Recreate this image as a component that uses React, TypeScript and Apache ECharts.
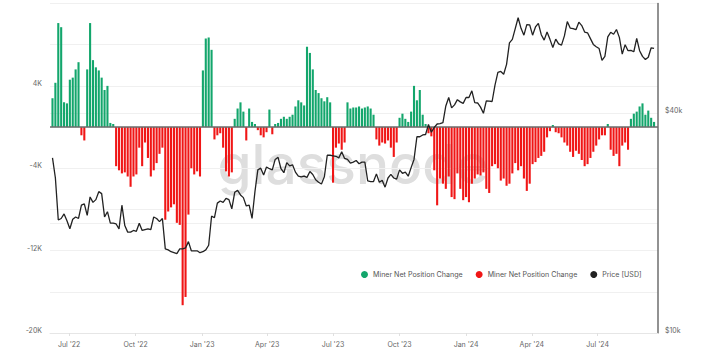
import React, { useEffect, useRef } from 'react';
import * as echarts from 'echarts';

// Sampling: every 4 days starting 2022-06-08
const startYear = 2022;
const startMonth = 5; // June (0-based)
const startDay = 8;
const stepDays = 4;

// Miner Net Position Change (thousands BTC)
const netChangeK = [
  2.8, 4.3, 10.1, 9.7, 2.4, 2.3, 4.6, 4.8, 5.6, 6.3,
  -0.8, -1.3, 5.6, 10.1, 6.5, 5.8, 5.5, 4.8, 3.6, 4.0,
  0.4, 0.3, -3.8, -4.2, -4.5, -4.4, -4.8, -5.8, -4.8, -4.6,
  -2.0, -3.8, -1.5, -3.0, -4.8, -4.2, -3.5, -2.6, -2.0, -9.0,
  -8.2, -7.8, -7.5, -9.3, -9.5, -17.3, -16.5, -8.5, -4.0, -4.6,
  -4.3, -4.8, 5.5, 8.6, 8.7, 7.5, -1.2, -0.8, -0.6, -2.0,
  -4.3, -4.8, -4.4, 0.8, 1.8, 2.4, 1.5, -1.3, 1.8, 0.5,
  0.3, -0.3, -0.8, -1.0, -0.5, 1.7, -0.7, 0.3, 0.4, 0.8,
  1.0, 0.8, 1.0, 1.2, 2.0, 2.6, 2.4, 2.1, 7.8, 7.2,
  5.6, 3.6, 3.3, 2.8, 2.5, 2.9, 2.4, -5.4, -2.0, -1.6,
  -2.2, -1.5, 2.4, 1.8, 1.9, 1.9, 2.0, 1.8, 1.9, 2.0,
  1.8, 1.2, -1.2, -1.8, -1.5, -1.6, -1.3, -2.0, -2.9, -1.5,
  0.9, 1.3, 0.8, 0.5, 1.5, 4.0, 2.6, 3.6, 1.2, 0.3,
  -0.6, -0.9, -4.2, -7.6, -5.0, -5.5, -6.0, -4.8, -6.8, -7.0,
  -4.5, -6.0, -7.1, -6.8, -7.3, -5.5, -5.0, -4.6, -4.7, -4.4,
  -6.0, -6.4, -3.8, -3.6, -4.0, -5.2, -5.0, -5.7, -5.5, -4.5,
  -3.5, -4.2, -3.8, -5.0, -6.2, -5.5, -3.6, -3.4, -3.0, -2.8,
  -2.4, -1.0, -0.4, 0.2, -0.5, -0.6, -1.0, -1.5, -1.8, -2.4,
  -2.9, -2.3, -2.6, -3.2, -3.8, -3.6, -3.0, -2.4, -1.8, -1.2,
  -0.8, -0.8, 0.3, -2.2, -2.8, -2.6, -3.8, -1.8, -1.5, -2.2,
  0.8, 1.3, 1.5, 2.0, 2.3, 1.2, 1.6, 0.9, 0.5,
];

// BTC price (thousands USD)
const priceK = [
  30.2, 26.6, 20.4, 20.6, 21.2, 20.3,
  19.3, 20.5, 20.8, 20.6, 22.4, 22.6, 21.0, 23.6,
  22.8, 23.2, 24.4, 24.1, 20.8, 21.5, 20.0, 20.0,
  19.9, 19.3, 22.4, 19.7, 18.9, 18.9, 19.1,
  19.0, 20.0, 19.1, 19.2, 19.3, 19.2, 20.8, 20.6,
  20.2, 20.6, 17.0, 16.9, 16.7, 16.6, 16.5,
  17.0, 17.0, 17.1, 17.8, 16.8, 16.8, 16.8, 16.6,
  16.7, 16.9, 17.4, 20.9, 20.7, 22.7, 23.0, 22.8,
  23.4, 23.2, 21.9, 24.3, 24.6, 23.9, 23.5,
  22.3, 22.4, 20.6, 24.4, 28.0, 28.3, 27.1, 28.5,
  28.2, 28.0, 29.9, 30.3, 28.2, 27.5, 29.3,
  28.7, 28.9, 27.6, 26.9, 26.8, 26.9, 26.7, 27.7,
  27.2, 26.3, 25.9, 25.6, 26.8, 30.7, 30.7,
  30.6, 30.5, 30.2, 31.4, 30.1, 29.9, 29.2, 29.4,
  29.7, 29.1, 29.4, 29.4, 26.1, 26.0, 26.0, 27.3,
  25.9, 26.2, 25.1, 26.6, 27.2, 26.6, 26.4,
  28.0, 27.4, 27.6, 26.9, 28.4, 29.9, 34.5, 34.5,
  34.9, 35.0, 37.3, 35.5, 36.6, 37.4, 37.5, 37.7,
  41.9, 44.2, 41.4, 42.2, 43.6, 43.0, 42.6,
  44.2, 44.2, 46.1, 42.8, 42.7, 41.6, 40.0, 43.3,
  43.2, 43.1, 47.8, 51.8, 52.1, 51.2, 54.5,
  62.4, 63.8, 68.3, 73.1, 68.4, 65.5, 70.0, 69.9,
  65.5, 69.0, 70.6, 65.7, 63.5, 66.8, 63.8, 60.6,
  63.9, 62.0, 61.5, 65.2, 71.4, 68.5, 68.3,
  67.8, 71.1, 69.6, 66.8, 66.5, 64.1, 61.8, 60.9,
  60.2, 55.9, 57.3, 64.8, 66.7, 65.9, 67.9, 64.6,
  58.1, 61.7, 59.4, 59.5, 59.0, 64.2, 59.4,
  57.3, 56.2, 57.0, 60.5, 60.3,
];

const monthNames = ['Jan', 'Feb', 'Mar', 'Apr', 'May', 'Jun', 'Jul', 'Aug', 'Sep', 'Oct', 'Nov', 'Dec'];
const leftLabelValues = [-20, -12, -4, 4];
const rightLabels: [number, string][] = [[1, '$10k'], [4, '$40k']];
const legendNames: Record<string, string> = {
  pos: 'Miner Net Position Change',
  neg: 'Miner Net Position Change',
  price: 'Price [USD]',
};

const FONT = 'Inter, "Noto Sans", sans-serif';
const GREEN = '#13a66c';
const RED = '#f01616';

export default function App() {
  const ref = useRef<HTMLDivElement>(null);
  useEffect(() => {
    if (!ref.current) return;
    const chart = echarts.init(ref.current, null, { renderer: 'svg' });
    const dates = netChangeK.map((_, i) => new Date(startYear, startMonth, startDay + stepDays * i).getTime());
    const posData = dates.map((t, i) => [t, netChangeK[i]]).filter((d) => (d[1] as number) > 0);
    const negData = dates.map((t, i) => [t, netChangeK[i]]).filter((d) => (d[1] as number) < 0);
    const priceData = dates.map((t, i) => [t, priceK[i] / 10]);

    const option: any = {
      animation: false,
      textStyle: { fontFamily: FONT },
      grid: { left: 50, right: 46, top: 3.5, bottom: 20 },
      legend: {
        left: 356,
        top: 266,
        icon: 'circle',
        itemWidth: 7,
        itemHeight: 7,
        itemGap: 13,
        data: ['pos', 'neg', 'price'],
        formatter: (n: string) => legendNames[n],
        textStyle: { fontSize: 7.1, color: '#555', fontFamily: FONT },
      },
      graphic: [
        {
          type: 'text',
          x: 353,
          y: 164,
          z: 0,
          silent: true,
          style: {
            text: 'glassnode',
            font: '500 55px Inter',
            fill: '#dedede',
            align: 'center',
            verticalAlign: 'middle',
          },
        },
      ],
      xAxis: {
        type: 'time',
        min: new Date(2022, 5, 6).getTime(),
        max: new Date(2024, 8, 21).getTime(),
        splitNumber: 6,
        axisLine: { show: true, onZero: false, lineStyle: { color: '#e6e6e6', width: 1 } },
        axisTick: { show: true, length: 3, lineStyle: { color: '#e0e0e0' } },
        splitLine: { show: false },
        axisLabel: {
          fontSize: 7,
          color: '#666',
          margin: 8,
          fontFamily: FONT,
          formatter: (v: number) => {
            const d = new Date(v);
            return `${monthNames[d.getMonth()]} '${String(d.getFullYear()).slice(2)}`;
          },
        },
      },
      yAxis: [
        {
          type: 'value',
          min: -20,
          max: 12,
          interval: 4,
          axisLine: { show: false },
          axisTick: { show: false },
          splitLine: { show: true, lineStyle: { color: '#f0f0f0', width: 1 } },
          axisLabel: {
            fontSize: 7,
            color: '#666',
            margin: 8,
            verticalAlign: 'bottom',
            lineHeight: 5,
            fontFamily: FONT,
            formatter: (v: number) => (leftLabelValues.includes(Math.round(v)) ? `${Math.round(v)}K` : ''),
          },
        },
        {
          type: 'log',
          logBase: 2,
          min: 1,
          max: 8,
          position: 'right',
          axisLine: { show: true, lineStyle: { color: '#6e6e6e', width: 1.5 } },
          axisTick: { show: false },
          splitLine: { show: true, lineStyle: { color: '#f0f0f0', width: 1 } },
          axisLabel: {
            fontSize: 7,
            color: '#666',
            margin: 7,
            verticalAlign: 'bottom',
            lineHeight: 6,
            fontFamily: FONT,
            formatter: (v: number) => {
              const hit = rightLabels.find(([k]) => Math.abs(k - v) < 0.01);
              return hit ? hit[1] : '';
            },
          },
        },
      ],
      series: [
        {
          name: 'pos',
          type: 'bar',
          yAxisIndex: 0,
          data: posData,
          barWidth: 2.1,
          barGap: '-100%',
          itemStyle: { color: GREEN },
          z: 2,
        },
        {
          name: 'neg',
          type: 'bar',
          yAxisIndex: 0,
          data: negData,
          barWidth: 2.1,
          barGap: '-100%',
          itemStyle: { color: RED },
          z: 2,
          markLine: {
            silent: true,
            symbol: ['none', 'none'],
            label: { show: false },
            lineStyle: { color: '#6b6b6b', width: 1.5, type: 'solid' },
            data: [{ yAxis: 0 }],
          },
        },
        {
          name: 'price',
          type: 'line',
          yAxisIndex: 1,
          data: priceData,
          showSymbol: false,
          symbol: 'none',
          itemStyle: { color: '#222' },
          lineStyle: { color: '#222', width: 1.3 },
          z: 5,
        },
      ],
    };
    chart.setOption(option);
    return () => chart.dispose();
  }, []);
  return <div ref={ref} style={{ position: 'absolute', left: 0, top: 0, width: 704, height: 353 }} />;
}
